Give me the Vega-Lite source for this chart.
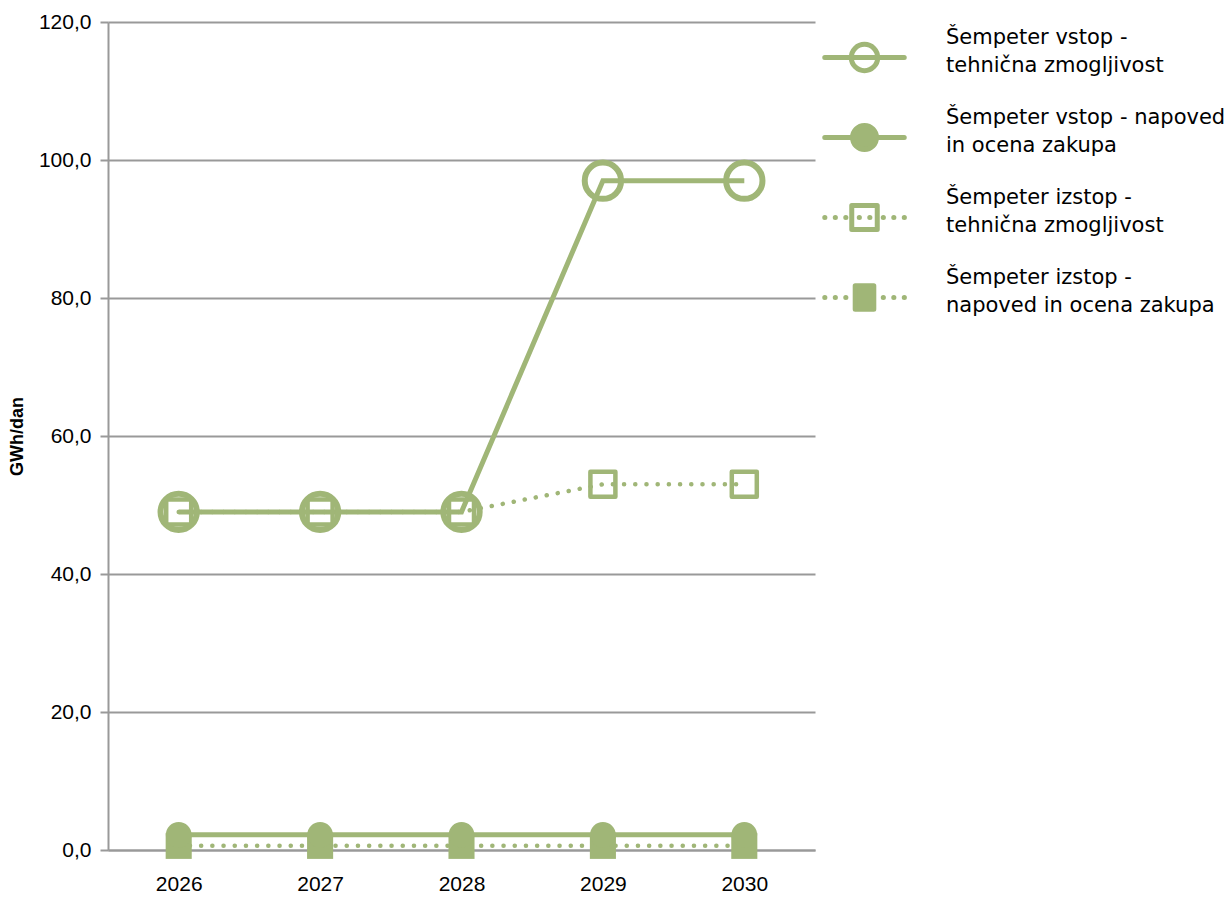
{
  "$schema": "https://vega.github.io/schema/vega-lite/v6.json",
  "autosize": "none",
  "width": 707,
  "height": 828,
  "padding": {"left": 108, "top": 22, "right": 417, "bottom": 47},
  "background": "white",
  "config": {"view": {"stroke": null}},
  "data": {"values": [
    {"leto": "2026", "serija": "Šempeter vstop - tehnična zmogljivost", "vrednost": 49},
    {"leto": "2027", "serija": "Šempeter vstop - tehnična zmogljivost", "vrednost": 49},
    {"leto": "2028", "serija": "Šempeter vstop - tehnična zmogljivost", "vrednost": 49},
    {"leto": "2029", "serija": "Šempeter vstop - tehnična zmogljivost", "vrednost": 97},
    {"leto": "2030", "serija": "Šempeter vstop - tehnična zmogljivost", "vrednost": 97},
    {"leto": "2026", "serija": "Šempeter vstop - napoved in ocena zakupa", "vrednost": 2.2},
    {"leto": "2027", "serija": "Šempeter vstop - napoved in ocena zakupa", "vrednost": 2.2},
    {"leto": "2028", "serija": "Šempeter vstop - napoved in ocena zakupa", "vrednost": 2.2},
    {"leto": "2029", "serija": "Šempeter vstop - napoved in ocena zakupa", "vrednost": 2.2},
    {"leto": "2030", "serija": "Šempeter vstop - napoved in ocena zakupa", "vrednost": 2.2},
    {"leto": "2026", "serija": "Šempeter izstop - tehnična zmogljivost", "vrednost": 49},
    {"leto": "2027", "serija": "Šempeter izstop - tehnična zmogljivost", "vrednost": 49},
    {"leto": "2028", "serija": "Šempeter izstop - tehnična zmogljivost", "vrednost": 49},
    {"leto": "2029", "serija": "Šempeter izstop - tehnična zmogljivost", "vrednost": 53},
    {"leto": "2030", "serija": "Šempeter izstop - tehnična zmogljivost", "vrednost": 53},
    {"leto": "2026", "serija": "Šempeter izstop - napoved in ocena zakupa", "vrednost": 0.6},
    {"leto": "2027", "serija": "Šempeter izstop - napoved in ocena zakupa", "vrednost": 0.6},
    {"leto": "2028", "serija": "Šempeter izstop - napoved in ocena zakupa", "vrednost": 0.6},
    {"leto": "2029", "serija": "Šempeter izstop - napoved in ocena zakupa", "vrednost": 0.6},
    {"leto": "2030", "serija": "Šempeter izstop - napoved in ocena zakupa", "vrednost": 0.6}
  ]},
  "encoding": {
    "x": {
      "field": "leto", "type": "ordinal",
      "scale": {"type": "point", "padding": 0.5},
      "axis": {
        "title": null, "labelAngle": 0, "ticks": false, "grid": false,
        "domainColor": "#999999", "domainWidth": 2,
        "labelFont": "Liberation Sans", "labelFontSize": 21, "labelColor": "#000000",
        "labelPadding": 23, "labelBaseline": "top"
      }
    },
    "y": {
      "field": "vrednost", "type": "quantitative",
      "scale": {"domain": [0, 120], "nice": false},
      "axis": {
        "title": "GWh/dan", "titleFont": "Liberation Sans", "titleFontSize": 18, "titleFontWeight": "bold", "titleColor": "#000000",
        "titlePadding": 12,
        "values": [0, 20, 40, 60, 80, 100, 120],
        "labelExpr": "replace(format(datum.value, '.1f'), '.', ',')",
        "labelFont": "Liberation Sans", "labelFontSize": 21, "labelColor": "#000000", "labelPadding": 9,
        "tickSize": 8, "tickColor": "#999999", "tickWidth": 2,
        "domainColor": "#999999", "domainWidth": 2,
        "grid": true, "gridColor": "#999999", "gridWidth": 2
      }
    },
    "color": {
      "field": "serija", "type": "nominal",
      "scale": {
        "domain": ["Šempeter vstop - tehnična zmogljivost", "Šempeter vstop - napoved in ocena zakupa", "Šempeter izstop - tehnična zmogljivost", "Šempeter izstop - napoved in ocena zakupa"],
        "range": ["#a0b677", "#a0b677", "#a0b677", "#a0b677"]
      },
      "legend": {
        "title": null, "orient": "none", "legendX": 739, "legendY": 18, "padding": 0,
        "symbolSize": 900, "symbolStrokeWidth": 5, "symbolStrokeColor": "#a0b677",
        "labelOffset": 64, "rowPadding": 30, "labelLimit": 400,
        "labelFont": "DejaVu Sans", "labelFontSize": 21, "labelColor": "#000000", "labelBaseline": "middle",
        "labelExpr": "datum.label == 'Šempeter vstop - tehnična zmogljivost' ? ['Šempeter vstop -', 'tehnična zmogljivost'] : datum.label == 'Šempeter vstop - napoved in ocena zakupa' ? ['Šempeter vstop - napoved', 'in ocena zakupa'] : datum.label == 'Šempeter izstop - tehnična zmogljivost' ? ['Šempeter izstop -', 'tehnična zmogljivost'] : ['Šempeter izstop -', 'napoved in ocena zakupa']",
        "encode": {
          "labels": {
            "update": {
              "lineHeight": {"value": 28},
              "dy": {"value": -20}
            }
          },
          "symbols": {
            "update": {
              "shape": {"signal": "datum.value == 'Šempeter vstop - tehnična zmogljivost' ? 'M-2.65,0H-0.88M0.88,0H2.65M-0.88,0H0.88M-0.88,0A0.88,0.88 0 1,0 0.88,0A0.88,0.88 0 1,0 -0.88,0' : datum.value == 'Šempeter vstop - napoved in ocena zakupa' ? 'M-2.65,0H2.65M-0.8,0A0.8,0.8 0 1,0 0.8,0A0.8,0.8 0 1,0 -0.8,0Z' : datum.value == 'Šempeter izstop - tehnična zmogljivost' ? 'M-2.65,0h0.01M-1.95,0h0.01M-1.25,0h0.01M-0.35,0h0.01M0.35,0h0.01M1.25,0h0.01M1.95,0h0.01M2.65,0h0.01M-0.85,-0.8H0.85V0.8H-0.85Z' : 'M-2.65,0h0.01M-1.95,0h0.01M-1.25,0h0.01M1.25,0h0.01M1.95,0h0.01M2.65,0h0.01M-0.62,-0.78H0.62V0.78H-0.62Z'"},
              "fillOpacity": {"signal": "indexof(datum.value, 'napoved') >= 0 ? 1 : 0"},
              "stroke": {"value": "#a0b677"},
              "strokeWidth": {"value": 5},
              "strokeCap": {"value": "round"},
              "strokeJoin": {"value": "round"},
              "strokeDash": {"value": []},
              "opacity": {"value": 1}
            }
          }
        }
      }
    }
  },
  "layer": [
    {
      "transform": [{"filter": "indexof(datum.serija, 'vstop') >= 0 && indexof(datum.serija, 'izstop') < 0"}],
      "mark": {"type": "line", "strokeWidth": 5}
    },
    {
      "transform": [{"filter": "indexof(datum.serija, 'izstop') >= 0"}],
      "mark": {"type": "line", "strokeWidth": 4.5, "strokeDash": [0.1, 11.1], "strokeCap": "round"}
    },
    {
      "transform": [{"filter": "datum.serija == 'Šempeter izstop - tehnična zmogljivost'"}],
      "mark": {"type": "point", "shape": "square", "filled": false, "size": 625, "strokeWidth": 4.5, "strokeJoin": "round", "opacity": 1}
    },
    {
      "transform": [{"filter": "datum.serija == 'Šempeter izstop - napoved in ocena zakupa'"}],
      "mark": {"type": "point", "shape": "square", "filled": true, "size": 680, "opacity": 1}
    },
    {
      "transform": [{"filter": "datum.serija == 'Šempeter vstop - tehnična zmogljivost'"}],
      "mark": {"type": "point", "shape": "circle", "filled": false, "size": 1320, "strokeWidth": 6, "opacity": 1}
    },
    {
      "transform": [{"filter": "datum.serija == 'Šempeter vstop - napoved in ocena zakupa'"}],
      "mark": {"type": "point", "shape": "circle", "filled": true, "size": 660, "opacity": 1}
    }
  ]
}
